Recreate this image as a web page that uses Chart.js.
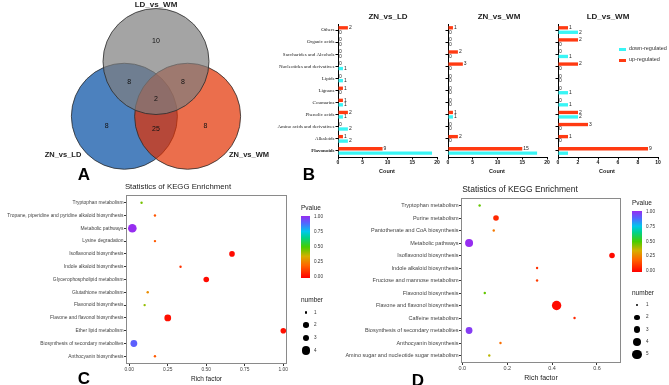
<!DOCTYPE html>
<html>
<head>
<meta charset="utf-8">
<script src="https://cdn.jsdelivr.net/npm/chart.js@4.4.1/dist/chart.umd.min.js"></script>
<style>
body { margin: 0; width: 669px; height: 385px; position: relative; background: #fff; overflow: hidden; font-family: "Liberation Sans", Arial, sans-serif; color: #222; }
canvas { position: absolute; }
.t { position: absolute; white-space: nowrap; line-height: 1; }
.box { position: absolute; }
</style>
</head>
<body>
<script>
// ---- data ----
var vennSets = ['LD_vs_WM', 'ZN_vs_LD', 'ZN_vs_WM'];
var vennOnly = [10, 8, 8];          // only in LD_vs_WM, ZN_vs_LD, ZN_vs_WM
var vennPairs = [8, 8, 25];         // missing ZN_vs_WM, missing ZN_vs_LD, missing LD_vs_WM
var vennAll = 2;

var classes = ['Others', 'Organic acids', 'Saccharides and Alcohols', 'Nucleotides and derivatives', 'Lipids', 'Lignans', 'Coumarins', 'Phenolic acids', 'Amino acids and derivatives', 'Alkaloids', 'Flavonoids'];
var znLdUp = [2, 0, 0, 0, 0, 1, 1, 2, 0, 1, 9];
var znLdDown = [0, 0, 0, 1, 1, 0, 1, 1, 2, 2, 19];
var znWmUp = [1, 0, 2, 3, 0, 0, 0, 1, 0, 2, 15];
var znWmDown = [0, 0, 0, 0, 0, 0, 0, 1, 0, 0, 18];
var ldWmUp = [1, 2, 0, 2, 0, 0, 0, 2, 3, 1, 9];
var ldWmDown = [2, 0, 1, 0, 0, 1, 1, 2, 0, 0, 1];

var keggC = ['Tryptophan metabolism', 'Tropane, piperidine and pyridine alkaloid biosynthesis', 'Metabolic pathways', 'Lysine degradation', 'Isoflavonoid biosynthesis', 'Indole alkaloid biosynthesis', 'Glycerophospholipid metabolism', 'Glutathione metabolism', 'Flavonoid biosynthesis', 'Flavone and flavonol biosynthesis', 'Ether lipid metabolism', 'Biosynthesis of secondary metabolites', 'Anthocyanin biosynthesis'];
var richC = [0.08, 0.167, 0.02, 0.167, 0.667, 0.333, 0.5, 0.12, 0.1, 0.25, 1.0, 0.03, 0.167];
var pvalC = [0.45, 0.17, 1.0, 0.18, 0.02, 0.1, 0.02, 0.28, 0.42, 0.03, 0.03, 0.9, 0.18];
var numC = [1, 1, 4, 1, 2, 1, 2, 1, 1, 3, 2, 3, 1];
var richTicksC = [0, 0.25, 0.5, 0.75, 1];

var keggD = ['Tryptophan metabolism', 'Purine metabolism', 'Pantothenate and CoA biosynthesis', 'Metabolic pathways', 'Isoflavonoid biosynthesis', 'Indole alkaloid biosynthesis', 'Fructose and mannose metabolism', 'Flavonoid biosynthesis', 'Flavone and flavonol biosynthesis', 'Caffeine metabolism', 'Biosynthesis of secondary metabolites', 'Anthocyanin biosynthesis', 'Amino sugar and nucleotide sugar metabolism'];
var richD = [0.077, 0.15, 0.14, 0.03, 0.667, 0.333, 0.333, 0.1, 0.42, 0.5, 0.03, 0.17, 0.12];
var pvalD = [0.47, 0.08, 0.24, 1.0, 0.02, 0.1, 0.12, 0.47, 0.02, 0.08, 0.97, 0.22, 0.38];
var numD = [1, 2, 1, 4, 2, 1, 1, 1, 5, 1, 3, 1, 1];
var richTicksD = [0, 0.2, 0.4, 0.6];

var pTicks = ['1.00', '0.75', '0.50', '0.25', '0.00'];

// ---- styles ----
var sizeC = [1.2, 2.8, 3.4, 4.3];
var sizeD = [1.2, 2.8, 3.4, 4.0, 4.7];
var pStops = [[0, [255, 0, 0]], [0.2, [255, 100, 0]], [0.35, [215, 175, 0]], [0.5, [70, 205, 0]], [0.65, [0, 210, 140]], [0.75, [0, 200, 235]], [0.88, [80, 105, 255]], [1, [150, 45, 240]]];
var upColor = '#ff3a12', downColor = '#38f5f5';

Chart.defaults.font.family = '"Liberation Sans", Arial, sans-serif';
Chart.defaults.animation = false;
Chart.defaults.responsive = false;
Chart.defaults.devicePixelRatio = 1;
Chart.defaults.plugins.legend.display = false;
Chart.defaults.plugins.tooltip.enabled = false;
Chart.defaults.events = [];
Chart.defaults.layout.autoPadding = false;

function pColor(p) {
  for (var i = 1; i < pStops.length; i++) {
    if (p <= pStops[i][0]) {
      var a = pStops[i - 1], b = pStops[i], f = (p - a[0]) / (b[0] - a[0]);
      var c = a[1].map(function (v, k) { return Math.round(v + (b[1][k] - v) * f); });
      return 'rgb(' + c.join(',') + ')';
    }
  }
  return 'rgb(' + pStops[pStops.length - 1][1].join(',') + ')';
}

function makeCanvas(x, y, w, h) {
  var cv = document.createElement('canvas');
  cv.width = w; cv.height = h;
  cv.style.left = x + 'px'; cv.style.top = y + 'px';
  cv.style.width = w + 'px'; cv.style.height = h + 'px';
  document.body.appendChild(cv);
  return cv;
}

function text(s, x, y, size, opt) {
  opt = opt || {};
  var d = document.createElement('div');
  d.className = 't';
  d.textContent = s;
  d.style.left = x + 'px'; d.style.top = y + 'px';
  d.style.fontSize = size + 'px';
  if (opt.bold) d.style.fontWeight = 'bold';
  if (opt.color) d.style.color = opt.color;
  var ax = opt.align === 'left' ? '0' : (opt.align === 'right' ? '-100%' : '-50%');
  d.style.transform = 'translate(' + ax + ',-50%)';
  document.body.appendChild(d);
  return d;
}

function box(x, y, w, h, bg, radius) {
  var d = document.createElement('div');
  d.className = 'box';
  d.style.left = x + 'px'; d.style.top = y + 'px';
  d.style.width = w + 'px'; d.style.height = h + 'px';
  d.style.background = bg;
  if (radius) d.style.borderRadius = '50%';
  document.body.appendChild(d);
}

// ---- A: Venn ----
var vc = { x: 156, y: 98 }, vSpread = 36.5, vR = 53;
var vAngles = [-90, 150, 30];
function dir(a) { return { x: Math.cos(a * Math.PI / 180), y: Math.sin(a * Math.PI / 180) }; }
var vCenters = vAngles.map(function (a) { var d = dir(a); return { x: vc.x + d.x * vSpread, y: vc.y + d.y * vSpread, r: vR }; });
var vLabels = [];
vennOnly.forEach(function (n, i) { var d = dir(vAngles[i]); vLabels.push({ x: vc.x + d.x * 57, y: vc.y + d.y * 57, n: n }); });
vennPairs.forEach(function (n, i) { var d = dir(vAngles[2 - i]); vLabels.push({ x: vc.x - d.x * 31, y: vc.y - d.y * 31, n: n }); });
vLabels.push({ x: vc.x, y: vc.y + 1, n: vennAll });

var vennCounts = {
  id: 'vennCounts',
  afterDatasetsDraw: function (chart) {
    var c = chart.ctx, xs = chart.scales.x, ys = chart.scales.y;
    c.save();
    c.font = '7px "Liberation Sans", Arial';
    c.fillStyle = '#111';
    c.textAlign = 'center'; c.textBaseline = 'middle';
    vLabels.forEach(function (l) { c.fillText(l.n, xs.getPixelForValue(l.x), ys.getPixelForValue(l.y)); });
    c.restore();
  }
};

new Chart(makeCanvas(0, 0, 310, 180), {
  type: 'bubble',
  data: {
    datasets: [
      { label: vennSets[0], data: [vCenters[0]], backgroundColor: 'rgba(126,126,126,0.7)', borderColor: '#2a2a2a', borderWidth: 0.8, clip: false },
      { label: vennSets[2], data: [vCenters[2]], backgroundColor: 'rgba(226,48,0,0.7)', borderColor: '#2a2a2a', borderWidth: 0.8, clip: false },
      { label: vennSets[1], data: [vCenters[1]], backgroundColor: 'rgba(0,76,162,0.7)', borderColor: '#2a2a2a', borderWidth: 0.8, clip: false }
    ]
  },
  options: {
    layout: { padding: 0 },
    scales: {
      x: { type: 'linear', display: false, min: 0, max: 310 },
      y: { type: 'linear', display: false, min: 0, max: 180, reverse: true }
    }
  },
  plugins: [vennCounts]
});
text('LD_vs_WM', 156, 4.5, 8, { bold: true });
text('ZN_vs_LD', 63, 155, 7.5, { bold: true });
text('ZN_vs_WM', 249, 155, 7.5, { bold: true });
text('A', 84, 174, 17, { bold: true, color: '#000' });

// ---- B: bar charts ----
function fixY(w) { return function (s) { s.width = w; s.paddingTop = 0; s.paddingBottom = 0; }; }
function fixX(h) { return function (s) { s.height = h; s.paddingLeft = 0; s.paddingRight = 0; }; }

var barLabels = {
  id: 'barLabels',
  afterDatasetsDraw: function (chart) {
    var c = chart.ctx;
    c.save();
    c.font = '5px "Liberation Sans", Arial';
    c.fillStyle = '#222';
    c.textBaseline = 'middle';
    chart.data.datasets.forEach(function (ds, i) {
      chart.getDatasetMeta(i).data.forEach(function (bar, j) {
        if (i === 1 && j === classes.length - 1) return;
        c.fillText(ds.data[j], bar.x + 1, bar.y);
      });
    });
    c.restore();
  }
};

function barChart(x, w, plotL, plotR, up, down, xmax, step, showLabels) {
  new Chart(makeCanvas(x, 20, w, 150), {
    type: 'bar',
    data: {
      labels: classes,
      datasets: [
        { label: 'up-regulated', data: up, backgroundColor: upColor },
        { label: 'down-regulated', data: down, backgroundColor: downColor }
      ]
    },
    options: {
      indexAxis: 'y',
      categoryPercentage: 0.74,
      barPercentage: 0.75,
      layout: { padding: { left: 0, top: 4, right: x + w - plotR, bottom: 0 } },
      scales: {
        y: {
          afterFit: fixY(plotL - x),
          border: { display: true, color: '#000', width: 1 },
          grid: { display: true, drawOnChartArea: false, drawTicks: true, tickLength: 2.5, offset: false, color: '#000' },
          ticks: {
            autoSkip: false, padding: 1, color: '#222',
            callback: function (v, i) { return showLabels ? classes[i] : ''; },
            font: function (ctx) { return { family: '"Liberation Serif", "Times New Roman", serif', size: 5, weight: ctx.index === classes.length - 1 ? 'bold' : 'normal' }; }
          }
        },
        x: {
          min: 0, max: xmax,
          afterFit: fixX(13),
          border: { display: true, color: '#000', width: 1 },
          grid: { display: true, drawOnChartArea: false, drawTicks: true, tickLength: 2.5, color: '#000' },
          ticks: { stepSize: step, padding: 0.5, maxRotation: 0, color: '#111', font: { size: 5, weight: 'bold' } }
        }
      }
    },
    plugins: [barLabels]
  });
}
barChart(258, 187, 338, 437, znLdUp, znLdDown, 20, 5, true);
barChart(440, 115, 448, 547, znWmUp, znWmDown, 20, 5, false);
barChart(550, 119, 558, 658, ldWmUp, ldWmDown, 10, 2, false);

text('ZN_vs_LD', 388, 17, 8, { bold: true });
text('ZN_vs_WM', 499, 17, 8, { bold: true });
text('LD_vs_WM', 608, 17, 8, { bold: true });
text('Count', 387, 172, 5.5, { bold: true });
text('Count', 497, 172, 5.5, { bold: true });
text('Count', 607, 172, 5.5, { bold: true });
text('B', 309, 174, 17, { bold: true, color: '#000' });
box(619, 47.5, 7, 3.5, downColor);
box(619, 58.5, 7, 3.5, upColor);
text('down-regulated', 629, 49.3, 5.5, { align: 'left', color: '#333' });
text('up-regulated', 629, 60.3, 5.5, { align: 'left', color: '#333' });

// ---- C, D: KEGG bubble charts ----
var frame = {
  id: 'frame',
  beforeDatasetsDraw: function (chart) {
    var a = chart.chartArea, c = chart.ctx;
    c.save();
    c.strokeStyle = '#8a8a8a';
    c.lineWidth = 1;
    c.strokeRect(a.left + 0.5, a.top + 0.5, a.right - a.left - 1, a.bottom - a.top - 1);
    c.restore();
  }
};

function keggChart(x, y, w, h, plot, terms, rich, pval, num, sizes, xmin, xmax, xticks, xfmt, fontSize) {
  new Chart(makeCanvas(x, y, w, h), {
    type: 'bubble',
    data: {
      datasets: [{
        data: terms.map(function (t, i) { return { x: rich[i], y: i, r: sizes[num[i] - 1] }; }),
        backgroundColor: pval.map(pColor),
        borderWidth: 0
      }]
    },
    options: {
      layout: { padding: { left: 0, top: plot.t - y, right: x + w - plot.r, bottom: 0 } },
      scales: {
        x: {
          type: 'linear', min: xmin, max: xmax,
          afterFit: fixX(y + h - plot.b),
          afterBuildTicks: function (s) { s.ticks = xticks.map(function (v) { return { value: v }; }); },
          border: { display: false },
          grid: { display: true, drawOnChartArea: false, drawTicks: true, tickLength: 2, color: '#333' },
          ticks: { padding: 0.5, maxRotation: 0, color: '#444', font: { size: fontSize }, callback: function (v) { return v.toFixed(xfmt); } }
        },
        y: {
          type: 'linear', min: -0.6, max: terms.length - 0.4, reverse: true,
          afterFit: fixY(plot.l - x),
          afterBuildTicks: function (s) { s.ticks = terms.map(function (t, i) { return { value: i }; }); },
          border: { display: false },
          grid: { display: true, drawOnChartArea: false, drawTicks: true, tickLength: 2, color: '#333' },
          ticks: { autoSkip: false, padding: 0.5, color: '#444', font: { size: fontSize }, callback: function (v) { return terms[v]; } }
        }
      }
    },
    plugins: [frame]
  });
}

keggChart(0, 190, 300, 185, { l: 126, t: 195, r: 287, b: 364 }, keggC, richC, pvalC, numC, sizeC, -0.021, 1.024, richTicksC, 2, 4.9);
keggChart(330, 192, 300, 183, { l: 461, t: 198, r: 621, b: 363 }, keggD, richD, pvalD, numD, sizeD, -0.006, 0.707, richTicksD, 1, 5.5);

function pLegend(x, y, w, h, lx, sizes, numTop, numStep, dotX) {
  var grad = 'linear-gradient(to top,' + pStops.map(function (s) { return pColor(s[0]) + ' ' + (s[0] * 100) + '%'; }).join(',') + ')';
  text('Pvalue', x, y - 8.5, 6.5, { align: 'left', color: '#222' });
  box(x, y, w, h, grad);
  pTicks.forEach(function (t, i) { text(t, lx, y + 1 + i * (h - 2) / 4, 4.6, { align: 'left', color: '#333' }); });
  text('number', x, numTop - 12.5, 6.5, { align: 'left', color: '#222' });
  sizes.forEach(function (r, i) {
    var cy = numTop + i * numStep;
    box(dotX - r, cy - r, 2 * r, 2 * r, '#000', true);
    text(String(i + 1), lx, cy, 4.6, { align: 'left', color: '#333' });
  });
}
pLegend(301, 216, 8.5, 62, 314, sizeC, 312.5, 12.7, 306);
pLegend(632, 211, 10, 61, 646, sizeD, 305, 12.3, 637);

text('Statistics of KEGG Enrichment', 178, 186.5, 7.8);
text('Rich factor', 206.5, 379, 6.5);
text('C', 84, 378, 17, { bold: true, color: '#000' });
text('Statistics of KEGG Enrichment', 520, 189, 8.5);
text('Rich factor', 541, 377, 7);
text('D', 418, 380, 17, { bold: true, color: '#000' });
</script>
</body>
</html>
